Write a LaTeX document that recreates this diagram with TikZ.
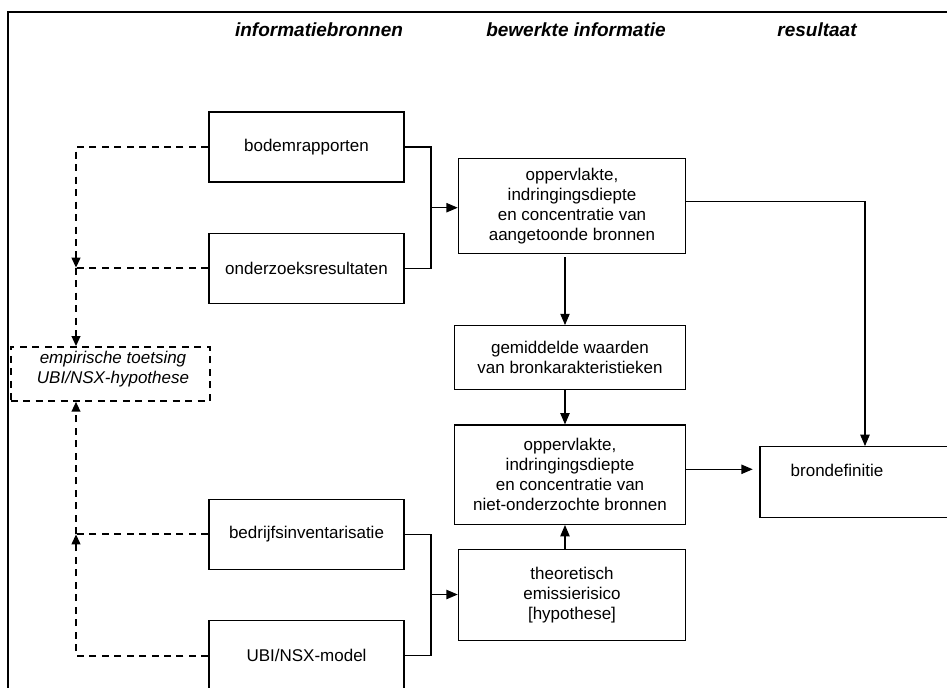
\documentclass[tikz,border=0pt]{standalone}
\usepackage{fontspec}
\setmainfont{Liberation Sans}
\usetikzlibrary{arrows.meta}
\newcommand{\dgbody}{\fontsize{12.75pt}{15pt}\selectfont}
\newcommand{\dghead}{\fontsize{14.25pt}{17pt}\selectfont\bfseries\itshape}
\begin{document}
\begin{tikzpicture}[x=0.75pt,y=-0.75pt,
  box/.style={draw,line width=0.9pt,fill=white,align=center,inner sep=0pt,font=\dgbody},
  srcbox/.style={box,minimum width=146.25pt,minimum height=52.5pt},
  dsh/.style={line width=1.4pt,dash pattern=on 5.25pt off 4.1pt},
  conn/.style={line width=0.9pt},
  arr/.style={-{Triangle[length=8.5pt,width=7pt]}},
  darr/.style={-{Triangle[length=7.5pt,width=6.5pt]}},
  frame/.style={line width=1.3pt},
  head/.style={anchor=base,font=\dghead,inner sep=0pt}]
\useasboundingbox (0,0) rectangle (947,687);
\clip (0,0) rectangle (947,687);
\fill[white] (0,0) rectangle (947,687);
% frame
\draw[frame] (8.3,700) -- (8.3,11.7) -- (960,11.7);
% headers
\node[head] (h1) at (319,36.7) {informatiebronnen};
\node[head] (h2) at (576,36.7) {bewerkte informatie};
\node[head] (h3) at (817,36.7) {resultaat};
% source boxes
\node[srcbox] (bodem) at (306.5,147) {bodemrapporten};
\node[srcbox] (onderz) at (306.5,268.5) {onderzoeksresultaten};
\node[srcbox] (bedrijf) at (306.5,534.2) {bedrijfsinventarisatie};
\node[srcbox] (ubi) at (306.5,655.7) {UBI/NSX-model};
% processed information
\node[box,minimum width=170.5pt,minimum height=71.4pt] (b1) at (572,206)
  {oppervlakte,\\indringingsdiepte\\en concentratie van\\aangetoonde bronnen};
\node[box,minimum width=173.5pt,minimum height=47.7pt] (b2) at (570,357.5)
  {gemiddelde waarden\\van bronkarakteristieken};
\node[box,minimum width=173.5pt,minimum height=74.5pt] (b3) at (570,474.7)
  {oppervlakte,\\indringingsdiepte\\en concentratie van\\niet-onderzochte bronnen};
\node[box,minimum width=170.5pt,minimum height=68.5pt] (b4) at (572,595)
  {theoretisch\\emissierisico\\{[hypothese]}};
% result
\node[box,minimum width=172.5pt,minimum height=53pt] (bron) at (875,482) {};
\node[anchor=base,font=\dgbody,inner sep=0pt] (brontxt) at (837,476) {brondefinitie};
% empirical test
\node[draw,dsh,fill=white,minimum width=149.5pt,minimum height=40.3pt,inner sep=0pt] (emp) at (110.3,373.9) {};
\node[font=\dgbody\itshape,align=center,inner sep=0pt] (emptxt) at (113,369.3)
  {empirische toetsing\\UBI/NSX-hypothese};
% coordinates
\coordinate (jt) at (431,207.7);
\coordinate (jb) at (431,594.5);
\coordinate (ax) at (565,0);
\coordinate (rc) at (865,201.7);
\coordinate (d1) at (76,267.7);
\coordinate (d2) at (76,534.3);
% solid connectors
\draw[conn] (bodem.east) -| (jt) |- (onderz.east);
\draw[conn,arr] (jt) -- (b1.west |- jt);
\draw[conn] (bedrijf.east) -| (jb) |- (ubi.east);
\draw[conn,arr] (jb) -- (b4.west |- jb);
\draw[conn,arr] ([yshift=-2.25pt]b1.south -| ax) -- (b2.north -| ax);
\draw[conn,arr] (b2.south -| ax) -- (b3.north -| ax);
\draw[conn,arr] (b4.north -| ax) -- (b3.south -| ax);
\draw[conn,arr] (b1.east |- rc) -- (rc) -- (bron.north -| rc);
\draw[conn,arr,shorten >=5pt] (b3.east |- 0,469.3) -- (bron.west |- 0,469.3);
% dashed connectors
\draw[dsh,darr] (bodem.west) -| (d1);
\draw[dsh] (onderz.west |- d1) -- (d1);
\draw[dsh,darr] (d1) -- (emp.north -| d1);
\draw[dsh] (bedrijf.west |- d2) -- (d2);
\draw[dsh,darr] (ubi.west) -| (d2);
\draw[dsh,darr] (d2) -- (emp.south -| d2);
\end{tikzpicture}
\end{document}
